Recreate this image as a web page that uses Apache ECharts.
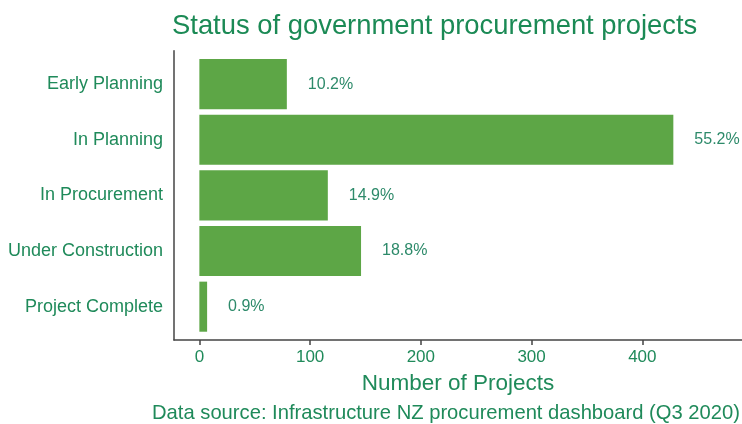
<!DOCTYPE html>
<html>
<head>
<meta charset="utf-8">
<script src="https://cdn.jsdelivr.net/npm/echarts@6/dist/echarts.min.js"></script>
<style>
html,body{margin:0;padding:0;background:#fff;}
#chart{width:742px;height:424px;}
</style>
</head>
<body>
<div id="chart"></div>
<script>
// Data
const categories = ["Early Planning", "In Planning", "In Procurement", "Under Construction", "Project Complete"];
const projectCounts = [79, 428, 116, 146, 7];
const shareLabels = ["10.2%", "55.2%", "14.9%", "18.8%", "0.9%"];
const xTickValues = [0, 100, 200, 300, 400];

const chart = echarts.init(document.getElementById('chart'), null, {renderer: 'canvas'});
const FONT = 'Liberation Sans, Arial, sans-serif';
const GREEN_TEXT = '#1f8a5a';
const X_MIN = -22.9, X_MAX = 490;

const option = {
  backgroundColor: '#ffffff',
  animation: false,
  title: [
    {
      text: 'Status of government procurement projects',
      left: 167, top: 8,
      textStyle: {fontFamily: FONT, fontSize: 27.4, fontWeight: 'normal', color: '#1b8a55'}
    },
    {
      text: 'Data source: Infrastructure NZ procurement dashboard (Q3 2020)',
      right: -3, top: 398,
      textStyle: {fontFamily: FONT, fontSize: 20.2, fontWeight: 'normal', color: GREEN_TEXT}
    }
  ],
  grid: [
    {left: 174, right: 0, top: 56.3, height: 278.2, outerBoundsMode: 'none'},
    {left: 174, right: 0, top: 50.7, height: 289.3, outerBoundsMode: 'none'}
  ],
  xAxis: [
    {gridIndex: 0, type: 'value', min: X_MIN, max: X_MAX, show: false},
    {
      gridIndex: 1, type: 'value', min: X_MIN, max: X_MAX,
      name: 'Number of Projects', nameLocation: 'middle', nameGap: 32,
      nameTextStyle: {fontFamily: FONT, fontSize: 22.5, color: GREEN_TEXT},
      axisLine: {show: true, onZero: false, lineStyle: {color: '#444', width: 1.5}},
      axisTick: {show: true, customValues: xTickValues, length: 5, lineStyle: {color: '#444', width: 1.5}},
      axisLabel: {show: true, customValues: xTickValues, margin: 9, fontFamily: FONT, fontSize: 17, color: GREEN_TEXT},
      splitLine: {show: false}
    }
  ],
  yAxis: [
    {
      gridIndex: 0, type: 'category', data: categories, inverse: true,
      axisLine: {show: false}, axisTick: {show: false},
      axisLabel: {margin: 11, fontFamily: FONT, fontSize: 18, color: GREEN_TEXT},
      splitLine: {show: false}
    },
    {
      gridIndex: 1, type: 'value', min: 0, max: 1,
      axisLine: {show: true, onZero: false, lineStyle: {color: '#444', width: 1.5}},
      axisTick: {show: false}, axisLabel: {show: false}, splitLine: {show: false}
    }
  ],
  series: [
    {
      type: 'bar', xAxisIndex: 0, yAxisIndex: 0,
      data: projectCounts,
      barWidth: '90%',
      itemStyle: {color: '#5da646'},
      label: {
        show: true, position: 'right', distance: 21,
        formatter: p => shareLabels[p.dataIndex],
        fontFamily: FONT, fontSize: 16, color: '#2d8a6a'
      }
    }
  ]
};
chart.setOption(option);
</script>
</body>
</html>
